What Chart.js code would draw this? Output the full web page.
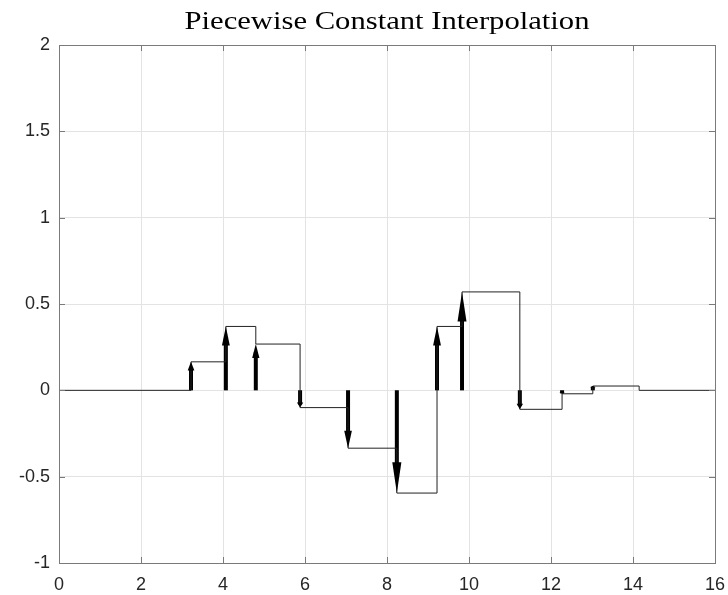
<!DOCTYPE html>
<html>
<head>
<meta charset="utf-8">
<script src="https://cdn.jsdelivr.net/npm/chart.js@4/dist/chart.umd.min.js"></script>
<style>
    html, body { margin: 0; padding: 0; background: #fff; }
    #wrap { width: 728px; height: 595px; }
</style>
</head>
<body>
<div id="wrap"><canvas id="graph"></canvas></div>
<script>
// sample positions and held values of the piecewise constant signal
const sampleX = [0, 3.22, 4.07, 4.80, 5.88, 7.05, 8.24, 9.22, 9.83, 11.24, 12.27, 13.02, 14.15, 16];
const sampleY = [0, 0.165, 0.37, 0.268, -0.10, -0.335, -0.595, 0.37, 0.57, -0.11, -0.02, 0.025, 0, 0];

// arrows (impulses) drawn at these samples
const arrowX = [3.22, 4.07, 4.80, 5.88, 7.05, 8.24, 9.22, 9.83, 11.24, 12.27, 13.02];
const arrowY = [0.165, 0.37, 0.268, -0.10, -0.335, -0.595, 0.37, 0.57, -0.11, -0.02, 0.025];

const xTicks = [0, 2, 4, 6, 8, 10, 12, 14, 16];
const yTicks = [-1, -0.5, 0, 0.5, 1, 1.5, 2];

const titleText = 'Piecewise Constant Interpolation';

let graph;

window.addEventListener('DOMContentLoaded', function () {
    draw();
});

// arrow heads, box and inward ticks
const axesDecor = {
    id: 'axesDecor',
    afterDatasetsDraw(chart) {
        const ctx = chart.ctx;
        const xs = chart.scales.x;
        const ys = chart.scales.y;
        ctx.save();
        ctx.fillStyle = '#000';
        for (let i = 0; i < arrowX.length; i++) {
            const px = xs.getPixelForValue(arrowX[i]);
            const p0 = ys.getPixelForValue(0);
            const p1 = ys.getPixelForValue(arrowY[i]);
            const len = Math.abs(p1 - p0);
            const dir = p1 < p0 ? 1 : -1;
            const headLen = len * 0.3;
            const half = 2.9 + len * 0.016;
            ctx.beginPath();
            ctx.moveTo(px, p1);
            ctx.lineTo(px - half, p1 + dir * headLen);
            ctx.lineTo(px + half, p1 + dir * headLen);
            ctx.closePath();
            ctx.fill();
        }
        ctx.restore();
    },
    afterDraw(chart) {
        const ctx = chart.ctx;
        const a = chart.chartArea;
        const xs = chart.scales.x;
        const ys = chart.scales.y;
        ctx.save();
        ctx.strokeStyle = '#7a7a7a';
        ctx.lineWidth = 1;
        ctx.beginPath();
        xTicks.forEach(v => {
            const px = Math.round(xs.getPixelForValue(v)) + 0.5;
            ctx.moveTo(px, a.bottom);
            ctx.lineTo(px, a.bottom - 6);
            ctx.moveTo(px, a.top);
            ctx.lineTo(px, a.top + 6);
        });
        yTicks.forEach(v => {
            const py = Math.round(ys.getPixelForValue(v)) + 0.5;
            ctx.moveTo(a.left, py);
            ctx.lineTo(a.left + 6, py);
            ctx.moveTo(a.right, py);
            ctx.lineTo(a.right - 6, py);
        });
        ctx.stroke();
        ctx.strokeRect(Math.round(a.left) + 0.5, Math.round(a.top) + 0.5,
            Math.round(a.right - a.left), Math.round(a.bottom - a.top));

        // title centred over the plot box
        ctx.fillStyle = '#000';
        ctx.font = '25px "Liberation Serif"';
        ctx.textAlign = 'center';
        ctx.textBaseline = 'middle';
        const w = ctx.measureText(titleText).width;
        const cx = (a.left + a.right) / 2;
        ctx.translate(cx, 22);
        ctx.scale(405 / w, 1);
        ctx.fillText(titleText, 0, 0);
        ctx.restore();
    }
};

function draw() {
    const div = document.getElementById('graph');

    const datasets = [{
        label: 'held',
        data: sampleX.map((x, i) => ({x: x, y: sampleY[i]})),
        stepped: true,
        borderColor: '#222',
        borderWidth: 1,
        pointRadius: 0,
        fill: false
    }];

    arrowX.forEach((x, i) => {
        datasets.push({
            label: 'arrow' + i,
            data: [{x: x, y: 0}, {x: x, y: arrowY[i] * 0.82}],
            borderColor: '#000',
            borderWidth: 4,
            borderCapStyle: 'butt',
            pointRadius: 0,
            fill: false
        });
    });

    if (graph) {
        graph.destroy();
    }

    graph = new Chart(div, {
        type: 'line',
        data: {datasets: datasets},
        options: {
            responsive: true,
            maintainAspectRatio: false,
            animation: false,
            events: [],
            layout: {padding: {top: 45, right: 13, bottom: 0, left: 0}},
            plugins: {
                legend: {display: false},
                tooltip: {enabled: false},
                title: {display: false}
            },
            scales: {
                x: {
                    type: 'linear',
                    min: 0,
                    max: 16,
                    afterFit: s => { s.height = 32; s.paddingLeft = 0; s.paddingRight = 0; },
                    afterBuildTicks: s => { s.ticks = xTicks.map(v => ({value: v})); },
                    border: {display: false},
                    grid: {color: '#e3e3e3', drawTicks: false},
                    ticks: {
                        padding: 11,
                        color: '#262626',
                        maxRotation: 0,
                        callback: v => String(v),
                        font: {family: '"Liberation Sans", Arial', size: 18}
                    }
                },
                y: {
                    type: 'linear',
                    min: -1,
                    max: 2,
                    afterFit: s => { s.width = 59; s.paddingTop = 0; s.paddingBottom = 0; },
                    afterBuildTicks: s => { s.ticks = yTicks.map(v => ({value: v})); },
                    border: {display: false},
                    grid: {color: '#e3e3e3', drawTicks: false},
                    ticks: {
                        padding: 9,
                        color: '#262626',
                        callback: v => String(v),
                        font: {family: '"Liberation Sans", Arial', size: 18}
                    }
                }
            }
        },
        plugins: [axesDecor]
    });
}
</script>
</body>
</html>
